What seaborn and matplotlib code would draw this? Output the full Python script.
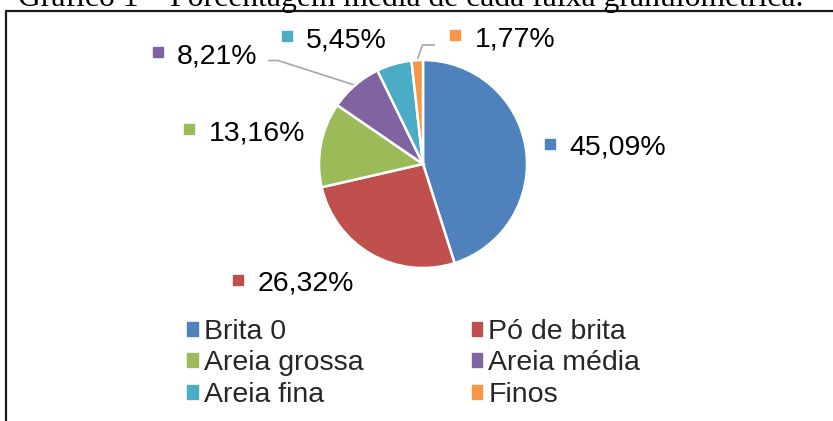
import numpy as np
import pandas as pd
import matplotlib
matplotlib.use('Agg')
import matplotlib.pyplot as plt
import seaborn as sns
from matplotlib.patches import Patch

# ---- data ----
categories = ['Brita 0', 'Pó de brita', 'Areia grossa', 'Areia média', 'Areia fina', 'Finos']
percentages = [45.09, 26.32, 13.16, 8.21, 5.45, 1.77]
value_labels = ['45,09%', '26,32%', '13,16%', '8,21%', '5,45%', '1,77%']
title_text = 'Gráfico 1 – Porcentagem média de cada faixa granulométrica.'

# ---- style ----
sns.set_theme(style='white')
plt.rcParams['font.family'] = ['Liberation Sans', 'DejaVu Sans']
palette = sns.color_palette(['#4F81BD', '#C0504D', '#9BBB59', '#8064A2', '#4BACC6', '#F79646'])

W, H = 833, 421
fig = plt.figure(figsize=(W / 100, H / 100), dpi=100)
fig.patch.set_facecolor('white')

# overlay axes in pixel coordinates (y downward)
ov = fig.add_axes([0, 0, 1, 1])
ov.set_xlim(0, W)
ov.set_ylim(H, 0)
ov.axis('off')

# ---- pie ----
cx, cy, r = 423, 164, 104
pax = fig.add_axes([(cx - r) / W, (H - cy - r) / H, 2 * r / W, 2 * r / H])
wedges, _ = pax.pie(percentages, colors=palette, startangle=90, counterclock=False,
                    radius=1, wedgeprops=dict(edgecolor='white', linewidth=1.8))
pax.set_xlim(-1, 1)
pax.set_ylim(-1, 1)
pax.set_aspect('equal')

# ---- data labels (marker square + text) ----
FS = 20.5
label_marker_pos = [(550.5, 143.5), (238.5, 279.5), (189.5, 129.0),
                    (157.7, 51.7), (287.0, 36.0), (455.5, 35.3)]
for (mx, my), txt, col in zip(label_marker_pos, value_labels, palette):
    ov.plot([mx], [my], marker='s', ms=7.8, color=col, mec=col, ls='none')
    ov.text(mx + 19, my + 11.5, txt, fontsize=FS, color='black', ha='left', va='baseline')

# leader lines (to the wedge edge middle)
def edge_point(w):
    mid = np.deg2rad((w.theta1 + w.theta2) / 2)
    return cx + r * np.cos(mid), cy - r * np.sin(mid)

leader_elbows = {3: [(268, 60.5), (278, 60.5)], 5: [(435, 45), (422.5, 45)]}
for i, pts in leader_elbows.items():
    ex, ey = edge_point(wedges[i])
    xs = [p[0] for p in pts] + [ex]
    ys = [p[1] for p in pts] + [ey]
    ov.plot(xs, ys, color='#A6A6A6', lw=1.2, solid_capstyle='butt')

# ---- legend ----
order = [0, 2, 4, 1, 3, 5]
handles = [Patch(facecolor=palette[i], edgecolor=palette[i]) for i in order]
labels = [categories[i] for i in order]
ov.legend(handles, labels, ncol=2, loc='upper left', bbox_to_anchor=(187, 319),
          bbox_transform=ov.transData, frameon=False, fontsize=FS,
          handlelength=0.37, handleheight=0.37, handletextpad=0.22,
          columnspacing=3.8, labelspacing=0.19, borderpad=0, borderaxespad=0)

# ---- frame (top and left borders) ----
ov.plot([6, 6, W + 5], [H + 5, 10.5, 10.5], color='#1a1a1a', lw=1.6, clip_on=False)

# ---- title (cut at the top, as in the source) ----
t = ov.text(18, 6, title_text, fontsize=20, ha='left', va='baseline',
            family=['Liberation Serif', 'DejaVu Serif'], color='black')
fig.canvas.draw()
w = t.get_window_extent(renderer=fig.canvas.get_renderer()).width
t.set_fontsize(20 * 787 / w)

fig.savefig('out.png', dpi=100, facecolor='white')
